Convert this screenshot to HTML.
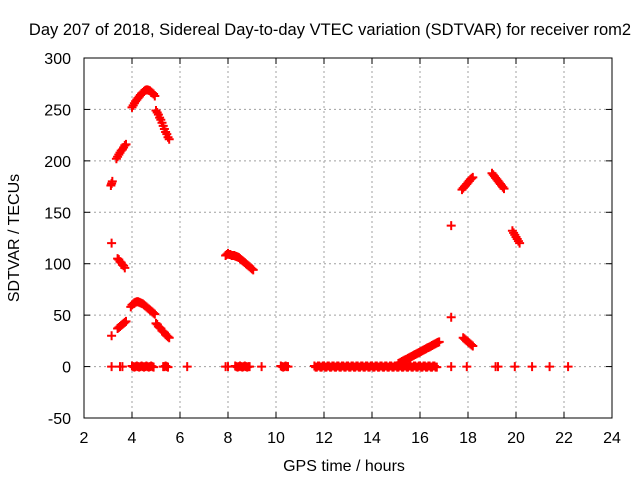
<!DOCTYPE html>
<html><head><meta charset="utf-8"><style>
body{margin:0;background:#fff;}
svg{display:block;font-family:"Liberation Sans",sans-serif;}
</style></head><body>
<svg id="c" width="640" height="480">
<text x="330" y="35" font-size="16.5" text-anchor="middle">Day 207 of 2018, Sidereal Day-to-day VTEC variation (SDTVAR) for receiver rom2</text>
<text x="344" y="471" font-size="16" text-anchor="middle">GPS time / hours</text>
<text x="0" y="0" font-size="16" text-anchor="middle" transform="translate(19,238) rotate(-90)">SDTVAR / TECUs</text>
<g id="grid"></g><g id="ticks"></g><g id="pts"></g>
<rect x="84" y="58" width="528" height="360" fill="none" stroke="#000" stroke-width="1"/>
</svg>
<script>
const xTicks=[2,4,6,8,10,12,14,16,18,20,22,24];
const yTicks=[-50,0,50,100,150,200,250,300];
const hours=[
4.0,4.05,4.1,4.15,4.2,4.25,4.3,4.35,4.4,4.45,4.5,4.55,4.6,4.65,4.7,4.75,4.8,4.85,4.9,4.95,
5.0,5.05,5.1,5.15,5.2,5.25,5.3,5.35,5.4,5.45,5.5,5.55,
3.35,3.4,3.45,3.5,3.55,3.6,3.65,3.7,3.75,
3.12,3.15,3.18,3.15,
3.4,3.45,3.5,3.55,3.6,3.65,3.7,
3.95,4.0,4.05,4.1,4.15,4.2,4.25,4.3,4.35,4.4,4.45,4.5,4.55,4.6,4.65,4.7,4.75,4.8,4.85,4.9,4.95,
5.0,5.05,5.1,5.15,5.2,5.25,5.3,5.35,5.4,5.45,5.5,5.55,
3.15,3.4,3.45,3.5,3.55,3.6,3.65,3.7,3.75,
7.9,7.95,8.0,8.05,8.1,8.15,8.2,
8.25,8.3,8.35,8.4,8.45,8.5,8.55,8.6,8.65,8.7,8.75,8.8,8.85,8.9,8.95,9.0,9.05,
3.15,3.5,3.6,4.0,4.1,4.2,4.3,4.4,4.5,4.6,4.7,4.8,4.9,5.3,5.4,5.5,6.3,7.9,8.0,8.3,8.4,8.5,8.6,8.7,8.8,8.9,9.4,10.2,10.3,10.4,10.5,
11.6,11.7,11.8,11.9,12.0,12.1,12.2,12.3,12.4,12.5,12.6,12.7,12.8,12.9,13.0,13.1,13.2,13.3,13.4,13.5,13.6,13.7,13.8,13.9,14.0,14.1,14.2,14.3,14.4,14.5,14.6,14.7,14.8,14.9,15.0,15.1,15.2,15.3,15.4,15.5,15.6,15.7,15.8,15.9,16.0,16.1,16.2,16.3,16.4,16.5,16.6,16.7,
11.65,11.75,11.85,11.95,12.05,12.15,12.25,12.35,12.45,12.55,12.65,12.75,12.85,12.95,13.05,13.15,13.25,13.35,13.45,13.55,13.65,13.75,13.85,13.95,14.05,14.15,14.25,14.35,14.45,14.55,14.65,14.75,14.85,14.95,15.05,15.15,15.25,15.35,15.45,15.55,15.65,15.75,15.85,15.95,16.05,16.15,16.25,16.35,16.45,16.55,16.65,
4.05,4.15,4.25,4.35,4.45,4.55,4.65,4.75,4.85,8.35,8.45,8.55,8.65,8.75,8.85,10.25,10.35,10.45,5.35,5.45,
17.3,17.95,19.15,19.25,19.95,20.67,21.4,22.17,
15.1,15.15,15.2,15.25,15.3,15.35,15.4,15.45,15.5,15.55,15.6,15.65,15.7,15.75,15.8,15.85,15.9,15.95,16.0,16.05,16.1,16.15,16.2,16.25,16.3,16.35,16.4,16.45,16.5,16.55,16.6,16.65,16.7,16.75,16.8,
17.75,17.8,17.85,17.9,17.95,18.0,18.05,18.1,18.15,18.2,
19.0,19.05,19.1,19.15,19.2,19.25,19.3,19.35,19.4,19.45,19.5,
19.85,19.9,19.95,20.0,20.05,20.1,20.15,
17.3,17.3,
17.8,17.85,17.9,17.95,18.0,18.05,18.1,18.15,18.2];
const values=[
252,254,256,258,259.5,261,262.5,264,265.5,266.5,267.5,268.5,269,269,268.5,268,267,266,265,263,
249,247,245,242,240,237,234,231,228,226,223,221,
202,204,206,208,210,211,213,215,216,
176,178,180,120,
105,104,102,101,99,98,96,
58,60,61,62,62.5,63,63,62.5,62,61.5,61,60,59,58,57,56,55,54,53,52,51,
42,41,39,38,37,35,34,33,31,30,29,28,
30,37,38,39,40,41,42,43,44,
108,109,110,109,109,108,108,
108,107.5,107,106.5,106,105,104,103,102,101,100,99,98,97,96,95,94,
0,0,0,0.5,-0.5,0.5,-0.5,0.5,-0.5,0.5,-0.5,0.5,-0.5,0,0.5,-0.5,0,0,0,0.5,-0.5,0.5,-0.5,0.5,-0.5,0,0,0.5,-0.5,0.5,0,
0.5,-0.5,0.5,-0.5,0.5,-0.5,0.5,-0.5,0.5,-0.5,0.5,-0.5,0.5,-0.5,0.5,-0.5,0.5,-0.5,0.5,-0.5,0.5,-0.5,0.5,-0.5,0.5,-0.5,0.5,-0.5,0.5,-0.5,0.5,-0.5,0.5,-0.5,0.5,-0.5,0.5,-0.5,0.5,-0.5,0.5,-0.5,0.5,-0.5,0.5,-0.5,0.5,-0.5,0.5,-0.5,0.5,-0.5,
-0.5,0.5,-0.5,0.5,-0.5,0.5,-0.5,0.5,-0.5,0.5,-0.5,0.5,-0.5,0.5,-0.5,0.5,-0.5,0.5,-0.5,0.5,-0.5,0.5,-0.5,0.5,-0.5,0.5,-0.5,0.5,-0.5,0.5,-0.5,0.5,-0.5,0.5,-0.5,0.5,-0.5,0.5,-0.5,0.5,-0.5,0.5,-0.5,0.5,-0.5,0.5,-0.5,0.5,-0.5,0.5,-0.5,
0,0,0,0,0,0,0,0,0,0,0,0,0,0,0,0,0,0,0,0,
0,0,0,0,0,0,0,0,
3,3.6,4.2,4.9,5.5,6.1,6.7,7.3,8,8.6,9.2,9.8,10.5,11.1,11.7,12.3,13,13.6,14.2,14.8,15.5,16.1,16.7,17.3,18,18.6,19.2,19.8,20.5,21.1,21.7,22.3,23,23.5,24,
172,173.5,175,176,177.5,179,180.5,182,183,184,
188,186.5,185,183.5,182,180.5,179,177.5,176,174.5,173,
132,130,128,126,124,122,120,
137,48,
28,27,26,25,24,23,22,21,20];
const NS='http://www.w3.org/2000/svg';
const X0=84,X1=612,Y0=418,Y1=58;
function xs(h){return X0+(h-2)/(24-2)*(X1-X0);}
function ys(v){return Y0-(v+50)/(300+50)*(Y0-Y1);}
function mk(tag,at,par){const e=document.createElementNS(NS,tag);for(const k in at)e.setAttribute(k,at[k]);par.appendChild(e);return e;}
const grid=document.getElementById('grid'),tk=document.getElementById('ticks'),pts=document.getElementById('pts');
xTicks.forEach(t=>{const x=xs(t);
 if(t>2&&t<24){const g=mk('line',{x1:x,x2:x,y1:Y0,y2:Y1,stroke:'#a0a0a0','stroke-dasharray':'2,3'},grid);
 
 }
 mk('line',{x1:x,x2:x,y1:Y0,y2:Y0-6,stroke:'#000'},tk);mk('line',{x1:x,x2:x,y1:Y1,y2:Y1+6,stroke:'#000'},tk);
 const l=mk('text',{x:x,y:443,'font-size':16,'text-anchor':'middle'},tk);l.textContent=t;
 
 });
yTicks.forEach(t=>{const y=ys(t);
 if(t>-50&&t<300){const g=mk('line',{x1:X0,x2:X1,y1:y,y2:y,stroke:'#a0a0a0','stroke-dasharray':'2,3'},grid);
 
 }
 mk('line',{x1:X0,x2:X0+6,y1:y,y2:y,stroke:'#000'},tk);mk('line',{x1:X1,x2:X1-6,y1:y,y2:y,stroke:'#000'},tk);
 const l=mk('text',{x:71,y:y+6,'font-size':16,'text-anchor':'end'},tk);l.textContent=t;
 
 });
hours.forEach((h,i)=>{const x=xs(h),y=ys(values[i]);
 const p=mk('path',{d:`M${x-4.5},${y}H${x+4.5}M${x},${y-4.5}V${y+4.5}`,stroke:'#ff0000','stroke-width':2,fill:'none'},pts);
 
 });
</script>
</body></html>
